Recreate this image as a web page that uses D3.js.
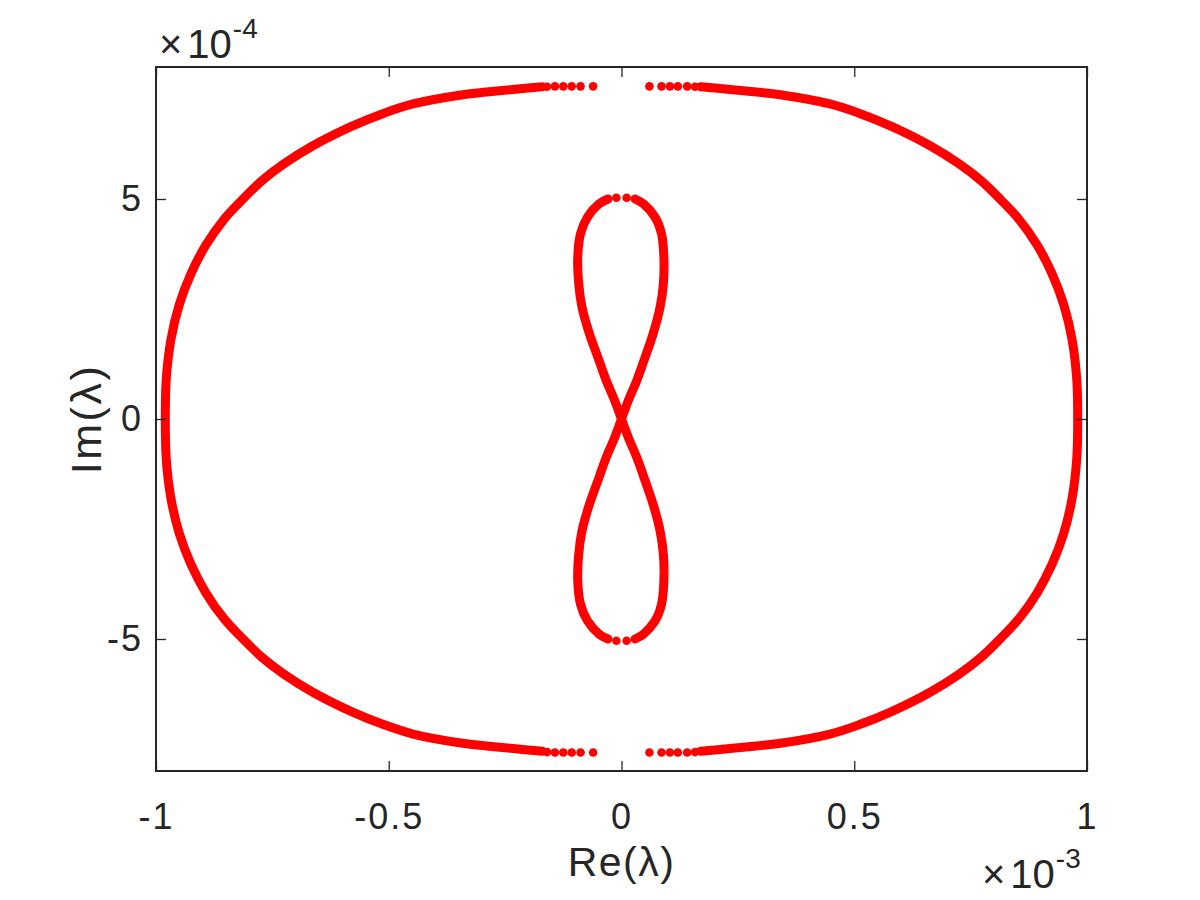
<!DOCTYPE html>
<html>
<head>
<meta charset="utf-8">
<script src="https://cdn.jsdelivr.net/npm/d3@7"></script>
<style>
  html, body { margin: 0; padding: 0; background: #fff; }
  svg text { font-family: "Liberation Sans", Arial, Helvetica, sans-serif; fill: #262626; }
</style>
</head>
<body>
<svg id="chart" width="1200" height="900"></svg>
<script>
// ---- data (x in units of 1e-3, y in units of 1e-4) ----
const xTicks = [-1, -0.5, 0, 0.5, 1];
const yTicks = [-5, 0, 5];
const xLabel = "Re(λ)";
const yLabel = "Im(λ)";

// outer curve, right half (continuous part), read from top gap down to bottom gap
const outerRightX = [0.17, 0.233, 0.29, 0.341, 0.448, 0.51, 0.58, 0.663, 0.725, 0.772, 0.816, 0.853, 0.893, 0.925, 0.950, 0.968, 0.978, 0.980,
                     0.978, 0.968, 0.950, 0.925, 0.893, 0.853, 0.816, 0.772, 0.725, 0.663, 0.58, 0.51, 0.448, 0.341, 0.29, 0.233, 0.17];
const outerRightY = [7.55, 7.49, 7.43, 7.37, 7.16, 6.95, 6.65, 6.21, 5.80, 5.42, 4.97, 4.55, 3.95, 3.30, 2.60, 1.80, 0.90, 0,
                     -0.90, -1.80, -2.60, -3.30, -3.95, -4.55, -4.97, -5.42, -5.80, -6.21, -6.65, -6.95, -7.16, -7.37, -7.43, -7.49, -7.55];
// outer curve, left half (continuous part)
const outerLeftX = [-0.17, -0.233, -0.29, -0.341, -0.448, -0.51, -0.58, -0.663, -0.725, -0.772, -0.816, -0.853, -0.893, -0.925, -0.950, -0.968, -0.978, -0.980,
                    -0.978, -0.968, -0.950, -0.925, -0.893, -0.853, -0.816, -0.772, -0.725, -0.663, -0.58, -0.51, -0.448, -0.341, -0.29, -0.233, -0.17];
const outerLeftY = [7.55, 7.49, 7.43, 7.37, 7.16, 6.95, 6.65, 6.21, 5.80, 5.42, 4.97, 4.55, 3.95, 3.30, 2.60, 1.80, 0.90, 0,
                    -0.90, -1.80, -2.60, -3.30, -3.95, -4.55, -4.97, -5.42, -5.80, -6.21, -6.65, -6.95, -7.16, -7.37, -7.43, -7.49, -7.55];
// isolated eigenvalues near the gaps of the outer curve
const gapDotsX = [0.060, 0.086, 0.104, 0.121, 0.141, 0.158, -0.061, -0.088, -0.107, -0.125, -0.143, -0.160,
                  0.060, 0.086, 0.104, 0.121, 0.141, 0.158, -0.061, -0.088, -0.107, -0.125, -0.143, -0.160];
const gapDotsY = [7.56, 7.56, 7.56, 7.56, 7.56, 7.55, 7.56, 7.56, 7.56, 7.56, 7.56, 7.55,
                  -7.58, -7.58, -7.58, -7.58, -7.58, -7.57, -7.58, -7.58, -7.58, -7.58, -7.58, -7.57];

// inner figure-eight: arm A (upper right -> origin -> lower left)
const innerAX = [0.029, 0.047, 0.072, 0.086, 0.091, 0.090, 0.083, 0.068, 0.051, 0.033, 0.015, 0, -0.015, -0.033, -0.051, -0.069, -0.085, -0.092, -0.094, -0.088, -0.073, -0.048, -0.029];
const innerAY = [5.0, 4.89, 4.59, 4.21, 3.68, 3.08, 2.55, 1.94, 1.41, 0.88, 0.43, 0, -0.43, -0.88, -1.41, -1.94, -2.55, -3.08, -3.68, -4.21, -4.59, -4.89, -5.0];
// arm B (upper left -> origin -> lower right)
const innerBX = [-0.029, -0.048, -0.073, -0.088, -0.094, -0.092, -0.085, -0.069, -0.051, -0.033, -0.015, 0, 0.015, 0.033, 0.051, 0.068, 0.083, 0.090, 0.091, 0.086, 0.072, 0.047, 0.029];
const innerBY = [5.0, 4.89, 4.59, 4.21, 3.68, 3.08, 2.55, 1.94, 1.41, 0.88, 0.43, 0, -0.43, -0.88, -1.41, -1.94, -2.55, -3.08, -3.68, -4.21, -4.59, -4.89, -5.0];
const innerDotsX = [0.011, -0.011, 0.011, -0.011];
const innerDotsY = [5.03, 5.03, -5.04, -5.04];

// ---- layout ----
const svg = d3.select("#chart");
const mLeft = 156, mRight = 1087, mTop = 67, mBottom = 771;
const x = d3.scaleLinear().domain([-1, 1]).range([mLeft, mRight]);
const y = d3.scaleLinear().domain([-8, 8]).range([mBottom, mTop]);
const axisColor = "#262626";
const red = "#ff0000";
const fmt = d => String(d).replace("\u2212", "-");

// data marks
const zip = (xs, ys) => xs.map((v, i) => [v, ys[i]]);
const line = d3.line().x(d => x(d[0])).y(d => y(d[1])).curve(d3.curveCatmullRom.alpha(0.5));
const g = svg.append("g");
[[outerRightX, outerRightY], [outerLeftX, outerLeftY], [innerAX, innerAY], [innerBX, innerBY]].forEach(([xs, ys]) => {
  g.append("path").attr("d", line(zip(xs, ys)))
    .attr("fill", "none").attr("stroke", red).attr("stroke-width", 9)
    .attr("stroke-linecap", "round").attr("stroke-linejoin", "round");
});
g.selectAll("circle.gap").data(zip(gapDotsX, gapDotsY)).join("circle").attr("class", "gap")
  .attr("cx", d => x(d[0])).attr("cy", d => y(d[1])).attr("r", 4.3).attr("fill", red);
g.selectAll("circle.inner").data(zip(innerDotsX, innerDotsY)).join("circle").attr("class", "inner")
  .attr("cx", d => x(d[0])).attr("cy", d => y(d[1])).attr("r", 4.3).attr("fill", red);

// axes
const tl = 10;
function styleAxis(sel) {
  sel.select(".domain").remove();
  sel.selectAll(".tick line").attr("stroke", axisColor).attr("stroke-width", 1.3);
  sel.selectAll(".tick text").attr("fill", axisColor).style("font-size", "36px").style("letter-spacing", "2px");
}
const xb = svg.append("g").attr("transform", `translate(0,${mBottom})`)
  .call(d3.axisBottom(x).tickValues(xTicks).tickFormat(fmt).tickSizeInner(-tl).tickSizeOuter(0).tickPadding(32));
styleAxis(xb);
const xt = svg.append("g").attr("transform", `translate(0,${mTop})`)
  .call(d3.axisTop(x).tickValues(xTicks).tickFormat("").tickSizeInner(-tl).tickSizeOuter(0));
styleAxis(xt);
const yl = svg.append("g").attr("transform", `translate(${mLeft},0)`)
  .call(d3.axisLeft(y).tickValues(yTicks).tickFormat(fmt).tickSizeInner(-tl).tickSizeOuter(0).tickPadding(13));
styleAxis(yl);
const yr = svg.append("g").attr("transform", `translate(${mRight},0)`)
  .call(d3.axisRight(y).tickValues(yTicks).tickFormat("").tickSizeInner(-tl).tickSizeOuter(0));
styleAxis(yr);

// box
svg.append("rect").attr("x", mLeft).attr("y", mTop).attr("width", mRight - mLeft).attr("height", mBottom - mTop)
  .attr("fill", "none").attr("stroke", axisColor).attr("stroke-width", 2);

// axis labels
svg.append("text").attr("x", (mLeft + mRight) / 2).attr("y", 876).attr("text-anchor", "middle")
  .style("font-size", "41px").style("letter-spacing", "1.5px").text(xLabel);
svg.append("text").attr("transform", `translate(101,${(mTop + mBottom) / 2}) rotate(-90)`).attr("text-anchor", "middle")
  .style("font-size", "43px").style("letter-spacing", "2.5px").text(yLabel);

// exponent labels
function expLabel(xPos, yBase, exp) {
  const t = svg.append("text").attr("x", xPos).attr("y", yBase).style("font-size", "40px");
  t.append("tspan").text("\u00d7");
  t.append("tspan").attr("dx", 5).text("10");
  t.append("tspan").attr("dy", -20).attr("dx", 1).style("font-size", "28px").text(exp);
}
expLabel(159, 58, "-4");
expLabel(982, 888, "-3");
</script>
</body>
</html>
